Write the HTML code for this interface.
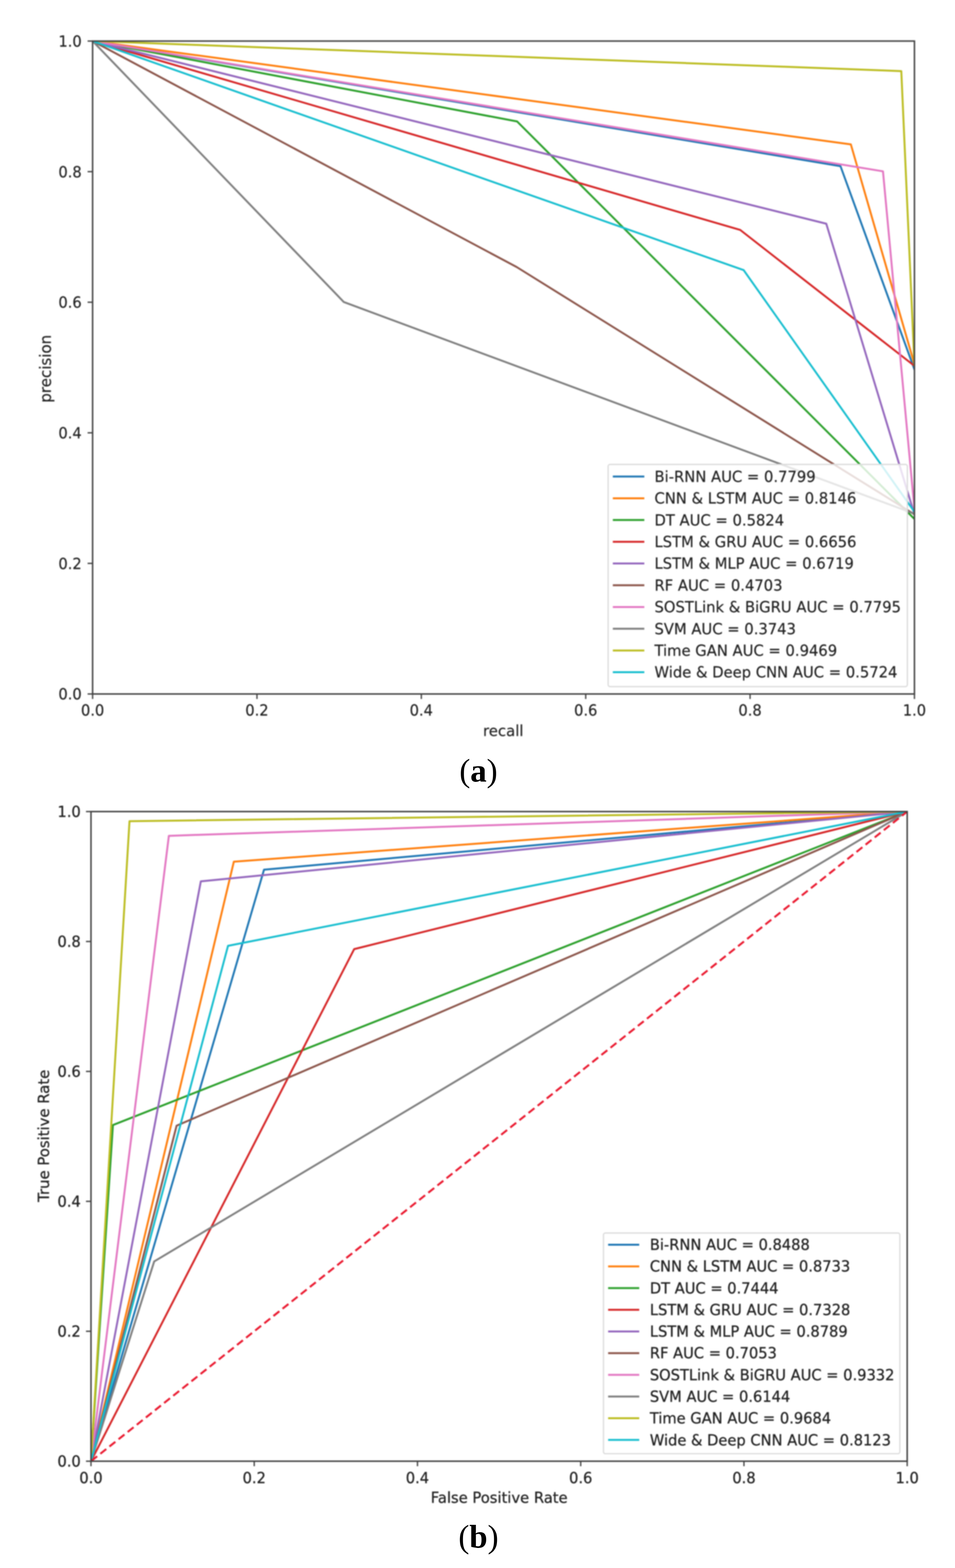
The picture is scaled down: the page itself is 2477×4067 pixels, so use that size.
<!DOCTYPE html>
<html><head><meta charset="utf-8"><title>PR and ROC curves</title>
<style>html,body{margin:0;padding:0;background:#fff;} body{width:2477px;height:4067px;overflow:hidden;position:relative;} svg{display:block;position:absolute;left:0;top:0;} svg.fig{filter:blur(1.4px);}</style>
</head><body>
<svg class="fig" width="2477" height="4067" viewBox="0 0 2477 4067">
<rect width="2477" height="4067" fill="#ffffff"/>
<g font-family="DejaVu Sans, Liberation Sans, sans-serif" fill="#222222">
<clipPath id="ca"><rect x="240.2" y="106.5" width="2131.6" height="1693.5"/></clipPath>
<clipPath id="cb"><rect x="236.0" y="2105.0" width="2117.0" height="1685.0"/></clipPath>
<g clip-path="url(#ca)" fill="none" stroke-width="5.0" stroke-linejoin="round" stroke-linecap="square">
<polyline points="240.2,106.5 2180.0,431.0 2371.8,958.3" stroke="#1f77b4"/>
<polyline points="240.2,106.5 2206.8,374.4 2371.8,944.8" stroke="#ff7f0e"/>
<polyline points="240.2,106.5 1341.2,315.0 2371.8,1346.1" stroke="#2ca02c"/>
<polyline points="240.2,106.5 1919.9,596.4 2371.8,949.0" stroke="#d62728"/>
<polyline points="240.2,106.5 2143.1,580.3 2371.8,1334.3" stroke="#9467bd"/>
<polyline points="240.2,106.5 1339.9,692.5 2371.8,1334.3" stroke="#8c564b"/>
<polyline points="240.2,106.5 2290.2,444.4 2371.8,1320.7" stroke="#e377c2"/>
<polyline points="240.2,106.5 891.8,783.4 2371.8,1332.6" stroke="#7f7f7f"/>
<polyline points="240.2,106.5 2337.7,184.4 2371.8,948.2" stroke="#bcbd22"/>
<polyline points="240.2,106.5 1928.9,700.7 2371.8,1327.5" stroke="#17becf"/>
</g>
<rect x="240.2" y="106.5" width="2131.6" height="1693.5" fill="none" stroke="#404040" stroke-width="3.8"/>
<g stroke="#262626" stroke-width="0.4">
<line x1="240.2" y1="1800.0" x2="240.2" y2="1813.0" stroke="#404040" stroke-width="3.4"/>
<line x1="227.2" y1="1800.0" x2="240.2" y2="1800.0" stroke="#404040" stroke-width="3.4"/>
<text transform="translate(240.2,1856.0) scale(1,1.03)" text-anchor="middle" font-size="38">0.0</text>
<text transform="translate(212.0,1814.3) scale(1,1.03)" text-anchor="end" font-size="38">0.0</text>
<line x1="666.5" y1="1800.0" x2="666.5" y2="1813.0" stroke="#404040" stroke-width="3.4"/>
<line x1="227.2" y1="1461.3" x2="240.2" y2="1461.3" stroke="#404040" stroke-width="3.4"/>
<text transform="translate(666.5,1856.0) scale(1,1.03)" text-anchor="middle" font-size="38">0.2</text>
<text transform="translate(212.0,1475.6) scale(1,1.03)" text-anchor="end" font-size="38">0.2</text>
<line x1="1092.8" y1="1800.0" x2="1092.8" y2="1813.0" stroke="#404040" stroke-width="3.4"/>
<line x1="227.2" y1="1122.6" x2="240.2" y2="1122.6" stroke="#404040" stroke-width="3.4"/>
<text transform="translate(1092.8,1856.0) scale(1,1.03)" text-anchor="middle" font-size="38">0.4</text>
<text transform="translate(212.0,1136.9) scale(1,1.03)" text-anchor="end" font-size="38">0.4</text>
<line x1="1519.2" y1="1800.0" x2="1519.2" y2="1813.0" stroke="#404040" stroke-width="3.4"/>
<line x1="227.2" y1="783.9" x2="240.2" y2="783.9" stroke="#404040" stroke-width="3.4"/>
<text transform="translate(1519.2,1856.0) scale(1,1.03)" text-anchor="middle" font-size="38">0.6</text>
<text transform="translate(212.0,798.2) scale(1,1.03)" text-anchor="end" font-size="38">0.6</text>
<line x1="1945.5" y1="1800.0" x2="1945.5" y2="1813.0" stroke="#404040" stroke-width="3.4"/>
<line x1="227.2" y1="445.2" x2="240.2" y2="445.2" stroke="#404040" stroke-width="3.4"/>
<text transform="translate(1945.5,1856.0) scale(1,1.03)" text-anchor="middle" font-size="38">0.8</text>
<text transform="translate(212.0,459.5) scale(1,1.03)" text-anchor="end" font-size="38">0.8</text>
<line x1="2371.8" y1="1800.0" x2="2371.8" y2="1813.0" stroke="#404040" stroke-width="3.4"/>
<line x1="227.2" y1="106.5" x2="240.2" y2="106.5" stroke="#404040" stroke-width="3.4"/>
<text transform="translate(2371.8,1856.0) scale(1,1.03)" text-anchor="middle" font-size="38">1.0</text>
<text transform="translate(212.0,120.8) scale(1,1.03)" text-anchor="end" font-size="38">1.0</text>
<text transform="translate(1305.3,1909.2) scale(1,1.03)" text-anchor="middle" font-size="38.6">recall</text>
<text transform="translate(131.5,956.5) rotate(-90) scale(1,1.03)" text-anchor="middle" font-size="39">precision</text>
<rect x="1577.3" y="1204.7" width="776.2" height="576.1" rx="5" ry="5" fill="#ffffff" fill-opacity="0.8" stroke="#dadada" stroke-width="3.2"/>
<line x1="1589.5" y1="1236.0" x2="1671.2" y2="1236.0" stroke="#1f77b4" stroke-width="5.0"/>
<text transform="translate(1697.5,1249.8) scale(1,1.03)" font-size="38.3">Bi-RNN AUC = 0.7799</text>
<line x1="1589.5" y1="1292.4" x2="1671.2" y2="1292.4" stroke="#ff7f0e" stroke-width="5.0"/>
<text transform="translate(1697.5,1306.2) scale(1,1.03)" font-size="38.3">CNN &amp; LSTM AUC = 0.8146</text>
<line x1="1589.5" y1="1348.8" x2="1671.2" y2="1348.8" stroke="#2ca02c" stroke-width="5.0"/>
<text transform="translate(1697.5,1362.6) scale(1,1.03)" font-size="38.3">DT AUC = 0.5824</text>
<line x1="1589.5" y1="1405.2" x2="1671.2" y2="1405.2" stroke="#d62728" stroke-width="5.0"/>
<text transform="translate(1697.5,1419.0) scale(1,1.03)" font-size="38.3">LSTM &amp; GRU AUC = 0.6656</text>
<line x1="1589.5" y1="1461.6" x2="1671.2" y2="1461.6" stroke="#9467bd" stroke-width="5.0"/>
<text transform="translate(1697.5,1475.4) scale(1,1.03)" font-size="38.3">LSTM &amp; MLP AUC = 0.6719</text>
<line x1="1589.5" y1="1518.0" x2="1671.2" y2="1518.0" stroke="#8c564b" stroke-width="5.0"/>
<text transform="translate(1697.5,1531.8) scale(1,1.03)" font-size="38.3">RF AUC = 0.4703</text>
<line x1="1589.5" y1="1574.4" x2="1671.2" y2="1574.4" stroke="#e377c2" stroke-width="5.0"/>
<text transform="translate(1697.5,1588.2) scale(1,1.03)" font-size="38.3">SOSTLink &amp; BiGRU AUC = 0.7795</text>
<line x1="1589.5" y1="1630.8" x2="1671.2" y2="1630.8" stroke="#7f7f7f" stroke-width="5.0"/>
<text transform="translate(1697.5,1644.6) scale(1,1.03)" font-size="38.3">SVM AUC = 0.3743</text>
<line x1="1589.5" y1="1687.2" x2="1671.2" y2="1687.2" stroke="#bcbd22" stroke-width="5.0"/>
<text transform="translate(1697.5,1701.0) scale(1,1.03)" font-size="38.3">Time GAN AUC = 0.9469</text>
<line x1="1589.5" y1="1743.6" x2="1671.2" y2="1743.6" stroke="#17becf" stroke-width="5.0"/>
<text transform="translate(1697.5,1757.4) scale(1,1.03)" font-size="38.3">Wide &amp; Deep CNN AUC = 0.5724</text>
</g>
<g clip-path="url(#cb)" fill="none" stroke-width="5.0" stroke-linejoin="round" stroke-linecap="square">
<polyline points="236.0,3790.0 684.8,2255.8 2353.0,2105.0" stroke="#1f77b4"/>
<polyline points="236.0,3790.0 606.5,2235.1 2353.0,2105.0" stroke="#ff7f0e"/>
<polyline points="236.0,3790.0 292.9,2918.2 2353.0,2105.0" stroke="#2ca02c"/>
<polyline points="236.0,3790.0 918.7,2461.7 2353.0,2105.0" stroke="#d62728"/>
<polyline points="236.0,3790.0 520.9,2286.0 2353.0,2105.0" stroke="#9467bd"/>
<polyline points="236.0,3790.0 458.1,2919.7 2353.0,2105.0" stroke="#8c564b"/>
<polyline points="236.0,3790.0 438.0,2167.9 2353.0,2105.0" stroke="#e377c2"/>
<polyline points="236.0,3790.0 399.9,3271.9 2353.0,2105.0" stroke="#7f7f7f"/>
<polyline points="236.0,3790.0 335.9,2129.9 2353.0,2105.0" stroke="#bcbd22"/>
<polyline points="236.0,3790.0 591.4,2453.3 2353.0,2105.0" stroke="#17becf"/>
<line x1="236.0" y1="3790.0" x2="2353.0" y2="2105.0" stroke="#ea1a30" stroke-width="5.2" stroke-dasharray="19.6 10.6" stroke-dashoffset="-0.8" stroke-linecap="butt"/>
</g>
<rect x="236.0" y="2105.0" width="2117.0" height="1685.0" fill="none" stroke="#404040" stroke-width="3.8"/>
<g stroke="#262626" stroke-width="0.6">
<line x1="236.0" y1="3790.0" x2="236.0" y2="3803.0" stroke="#404040" stroke-width="3.4"/>
<line x1="223.0" y1="3790.0" x2="236.0" y2="3790.0" stroke="#404040" stroke-width="3.4"/>
<text transform="translate(236.0,3846.5) scale(1,1.03)" text-anchor="middle" font-size="38">0.0</text>
<text transform="translate(209.5,3804.3) scale(1,1.03)" text-anchor="end" font-size="38">0.0</text>
<line x1="659.4" y1="3790.0" x2="659.4" y2="3803.0" stroke="#404040" stroke-width="3.4"/>
<line x1="223.0" y1="3453.0" x2="236.0" y2="3453.0" stroke="#404040" stroke-width="3.4"/>
<text transform="translate(659.4,3846.5) scale(1,1.03)" text-anchor="middle" font-size="38">0.2</text>
<text transform="translate(209.5,3467.3) scale(1,1.03)" text-anchor="end" font-size="38">0.2</text>
<line x1="1082.8" y1="3790.0" x2="1082.8" y2="3803.0" stroke="#404040" stroke-width="3.4"/>
<line x1="223.0" y1="3116.0" x2="236.0" y2="3116.0" stroke="#404040" stroke-width="3.4"/>
<text transform="translate(1082.8,3846.5) scale(1,1.03)" text-anchor="middle" font-size="38">0.4</text>
<text transform="translate(209.5,3130.3) scale(1,1.03)" text-anchor="end" font-size="38">0.4</text>
<line x1="1506.2" y1="3790.0" x2="1506.2" y2="3803.0" stroke="#404040" stroke-width="3.4"/>
<line x1="223.0" y1="2779.0" x2="236.0" y2="2779.0" stroke="#404040" stroke-width="3.4"/>
<text transform="translate(1506.2,3846.5) scale(1,1.03)" text-anchor="middle" font-size="38">0.6</text>
<text transform="translate(209.5,2793.3) scale(1,1.03)" text-anchor="end" font-size="38">0.6</text>
<line x1="1929.6" y1="3790.0" x2="1929.6" y2="3803.0" stroke="#404040" stroke-width="3.4"/>
<line x1="223.0" y1="2442.0" x2="236.0" y2="2442.0" stroke="#404040" stroke-width="3.4"/>
<text transform="translate(1929.6,3846.5) scale(1,1.03)" text-anchor="middle" font-size="38">0.8</text>
<text transform="translate(209.5,2456.3) scale(1,1.03)" text-anchor="end" font-size="38">0.8</text>
<line x1="2353.0" y1="3790.0" x2="2353.0" y2="3803.0" stroke="#404040" stroke-width="3.4"/>
<line x1="223.0" y1="2105.0" x2="236.0" y2="2105.0" stroke="#404040" stroke-width="3.4"/>
<text transform="translate(2353.0,3846.5) scale(1,1.03)" text-anchor="middle" font-size="38">1.0</text>
<text transform="translate(209.5,2119.3) scale(1,1.03)" text-anchor="end" font-size="38">1.0</text>
<text transform="translate(1294.8,3897.5) scale(1,1.03)" text-anchor="middle" font-size="38.2">False Positive Rate</text>
<text transform="translate(126.8,2946.0) rotate(-90) scale(1,1.03)" text-anchor="middle" font-size="38.5">True Positive Rate</text>
<rect x="1565.2" y="3198.1" width="768.8" height="572.4" rx="5" ry="5" fill="#ffffff" fill-opacity="0.8" stroke="#dadada" stroke-width="3.2"/>
<line x1="1577.3" y1="3228.4" x2="1658.0" y2="3228.4" stroke="#1f77b4" stroke-width="5.0"/>
<text transform="translate(1685.5,3242.1) scale(1,1.03)" font-size="38.0">Bi-RNN AUC = 0.8488</text>
<line x1="1577.3" y1="3284.7" x2="1658.0" y2="3284.7" stroke="#ff7f0e" stroke-width="5.0"/>
<text transform="translate(1685.5,3298.3) scale(1,1.03)" font-size="38.0">CNN &amp; LSTM AUC = 0.8733</text>
<line x1="1577.3" y1="3340.9" x2="1658.0" y2="3340.9" stroke="#2ca02c" stroke-width="5.0"/>
<text transform="translate(1685.5,3354.6) scale(1,1.03)" font-size="38.0">DT AUC = 0.7444</text>
<line x1="1577.3" y1="3397.2" x2="1658.0" y2="3397.2" stroke="#d62728" stroke-width="5.0"/>
<text transform="translate(1685.5,3410.9) scale(1,1.03)" font-size="38.0">LSTM &amp; GRU AUC = 0.7328</text>
<line x1="1577.3" y1="3453.5" x2="1658.0" y2="3453.5" stroke="#9467bd" stroke-width="5.0"/>
<text transform="translate(1685.5,3467.1) scale(1,1.03)" font-size="38.0">LSTM &amp; MLP AUC = 0.8789</text>
<line x1="1577.3" y1="3509.8" x2="1658.0" y2="3509.8" stroke="#8c564b" stroke-width="5.0"/>
<text transform="translate(1685.5,3523.4) scale(1,1.03)" font-size="38.0">RF AUC = 0.7053</text>
<line x1="1577.3" y1="3566.0" x2="1658.0" y2="3566.0" stroke="#e377c2" stroke-width="5.0"/>
<text transform="translate(1685.5,3579.7) scale(1,1.03)" font-size="38.0">SOSTLink &amp; BiGRU AUC = 0.9332</text>
<line x1="1577.3" y1="3622.3" x2="1658.0" y2="3622.3" stroke="#7f7f7f" stroke-width="5.0"/>
<text transform="translate(1685.5,3636.0) scale(1,1.03)" font-size="38.0">SVM AUC = 0.6144</text>
<line x1="1577.3" y1="3678.6" x2="1658.0" y2="3678.6" stroke="#bcbd22" stroke-width="5.0"/>
<text transform="translate(1685.5,3692.2) scale(1,1.03)" font-size="38.0">Time GAN AUC = 0.9684</text>
<line x1="1577.3" y1="3734.8" x2="1658.0" y2="3734.8" stroke="#17becf" stroke-width="5.0"/>
<text transform="translate(1685.5,3748.5) scale(1,1.03)" font-size="38.0">Wide &amp; Deep CNN AUC = 0.8123</text>
</g>
</g>
</svg>
<svg class="cap" width="2477" height="4067" viewBox="0 0 2477 4067">
<g font-family="Liberation Serif, DejaVu Serif, serif" fill="#000">
<text x="1241" y="2026.5" text-anchor="middle" font-size="85">(<tspan font-weight="bold">a</tspan>)</text>
<text x="1241" y="4014" text-anchor="middle" font-size="85">(<tspan font-weight="bold">b</tspan>)</text>
</g>
</svg>
</body></html>
